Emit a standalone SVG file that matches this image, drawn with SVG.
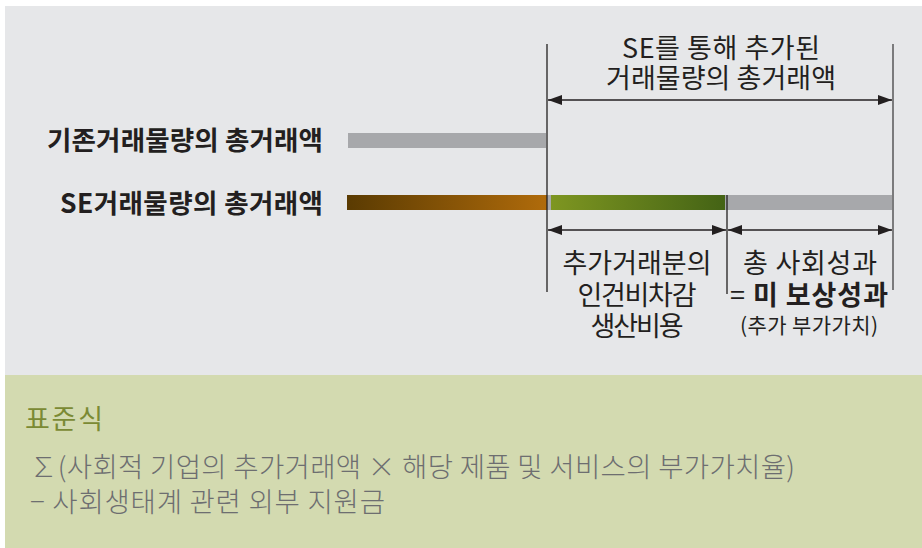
<svg xmlns="http://www.w3.org/2000/svg" width="922" height="548" viewBox="0 0 922 548">
<style>
text{font-family:"Noto Sans CJK KR","Noto Sans",sans-serif;fill:#231f20}
.lbl{font-size:26.5px;font-weight:700;text-anchor:end}
.mid{font-size:27px;text-anchor:middle}
.dim{stroke:#231f20;stroke-width:1.3;fill:none}
.arrow{stroke:#231f20;stroke-width:1.3;fill:none;marker-start:url(#ah);marker-end:url(#ah)}
.formula{font-size:27.5px;fill:#6d6e70;font-weight:300}
</style>
<defs>
<marker id="ah" viewBox="0 0 14 10" refX="14" refY="5" markerWidth="14" markerHeight="10" markerUnits="userSpaceOnUse" orient="auto-start-reverse">
<path d="M0,0 L14,5 L0,10 z" fill="#231f20"/>
</marker>
<linearGradient id="gBrown" x1="0" y1="0" x2="1" y2="0">
<stop offset="0" stop-color="#5a3b02"/>
<stop offset="1" stop-color="#b06b0b"/>
</linearGradient>
<linearGradient id="gGreen" x1="0" y1="0" x2="1" y2="0">
<stop offset="0" stop-color="#7e9621"/>
<stop offset="1" stop-color="#446315"/>
</linearGradient>
</defs>

<rect x="5" y="6" width="917" height="369" fill="#e6e7e9"/>
<rect x="5" y="375" width="917" height="173" fill="#d3dab0"/>

<g id="label-existing">
<text class="lbl" x="323" y="150" textLength="276" lengthAdjust="spacing">기존거래물량의 총거래액</text>
<rect x="348" y="133" width="198" height="15" fill="#a7a8ab"/>
</g>

<g id="label-se">
<text class="lbl" x="323" y="213" textLength="263" lengthAdjust="spacing">SE거래물량의 총거래액</text>
<rect x="347" y="195" width="200" height="15" fill="url(#gBrown)"/>
<rect x="547" y="195" width="4" height="15" fill="#a7a8ab"/>
<rect x="551" y="195" width="174" height="15" fill="url(#gGreen)"/>
<rect x="725" y="195" width="167" height="15" fill="#a7a8ab"/>
</g>

<g id="connectors">
<line class="dim" x1="547" y1="44" x2="547" y2="292"/>
<line class="dim" x1="727" y1="195" x2="727" y2="294"/>
<line x1="893" y1="44" x2="893" y2="290" stroke="#6f6f71" stroke-width="1.8"/>
<line class="arrow" x1="548" y1="100" x2="892" y2="100"/>
<line class="arrow" x1="548" y1="230" x2="726" y2="230"/>
<line class="arrow" x1="728" y1="230" x2="892" y2="230"/>
</g>

<g id="added-total">
<text class="mid"><tspan x="721" y="58" textLength="198" lengthAdjust="spacing">SE를 통해 추가된</tspan><tspan x="721" y="88" textLength="230" lengthAdjust="spacing">거래물량의 총거래액</tspan></text>
</g>

<g id="cost">
<text class="mid"><tspan x="637" y="273" textLength="149" lengthAdjust="spacing">추가거래분의</tspan><tspan x="637" y="305" textLength="119" lengthAdjust="spacing">인건비차감</tspan><tspan x="637" y="336" textLength="93" lengthAdjust="spacing">생산비용</tspan></text>
</g>

<g id="social">
<text class="mid"><tspan x="810" y="273" textLength="134" lengthAdjust="spacing">총 사회성과</tspan><tspan x="809" y="305" textLength="158" lengthAdjust="spacing">= <tspan font-weight="700">미 보상성과</tspan></tspan><tspan x="809" y="333" font-size="21" textLength="138" lengthAdjust="spacing">(추가 부가가치)</tspan></text>
</g>

<g id="formula">
<text x="25" y="429" style="font-size:27px;fill:#7b8a34" textLength="78" lengthAdjust="spacing">표준식</text>
<text class="formula"><tspan x="30" y="477" textLength="765" lengthAdjust="spacing">∑(사회적 기업의 추가거래액 × 해당 제품 및 서비스의 부가가치율)</tspan><tspan x="30" y="512" textLength="355" lengthAdjust="spacing">− 사회생태계 관련 외부 지원금</tspan></text>
</g>
</svg>
